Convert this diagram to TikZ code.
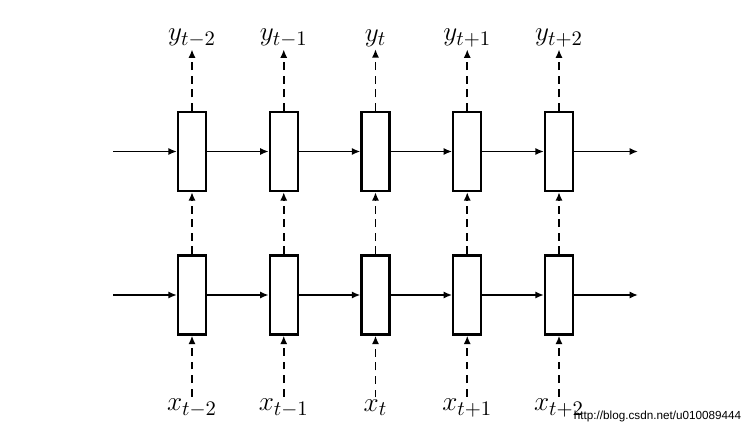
\documentclass[tikz,border=0pt]{standalone}
\usepackage{fontspec}
\newfontfamily\wmfont{Liberation Sans}
\usepackage{tikz}
\usetikzlibrary{arrows.meta, positioning, calc}

\begin{document}
\begin{tikzpicture}[x=0.53pt, y=-0.53pt,
  cell/.style={rectangle, draw, line width=1.2pt, fill=white, inner sep=0pt,
               minimum width=14.8pt, minimum height=41.9pt},
  lbl/.style={inner sep=1.2pt, font=\fontsize{15}{17}\selectfont},
  flow/.style={-{Latex[length=4.5pt, width=3.8pt]}, line width=0.9pt},
  link/.style={flow, dash pattern=on 4.2pt off 3pt},
]
\useasboundingbox (0,0) rectangle (756,435);
% cells and labels
\foreach \i/\s in {1/t-2, 2/t-1, 3/t, 4/t+1, 5/t+2} {
  \node[cell] (h\i) at ({100.25+91.75*\i}, 151.5) {};
  \node[cell] (g\i) at ({100.25+91.75*\i}, 295) {};
  \node[lbl]  (y\i) at ({100.25+91.75*\i}, 38) {$y_{\s}$};
  \node[lbl]  (x\i) at ({100.25+91.75*\i}, 408) {$x_{\s}$};
  \draw[link] (g\i) -- (h\i);
  \draw[link] (h\i) -- (y\i);
  \draw[link] (x\i) -- (g\i);
}
\coordinate (hin)  at (113, 151.5);
\coordinate (hout) at (638, 151.5);
\coordinate (gin)  at (113, 295);
\coordinate (gout) at (638, 295);
\draw[flow] (hin) -- (h1);
\draw[flow] (gin) -- (g1);
\foreach \i/\j in {1/2, 2/3, 3/4, 4/5} {
  \draw[flow] (h\i) -- (h\j);
  \draw[flow] (g\i) -- (g\j);
}
\draw[flow] (h5) -- (hout);
\draw[flow] (g5) -- (gout);
\node[font=\wmfont\fontsize{6.2}{7}\selectfont, inner sep=0pt] (mark) at (657.5, 416) {http://blog.csdn.net/u010089444};
\end{tikzpicture}
\end{document}
